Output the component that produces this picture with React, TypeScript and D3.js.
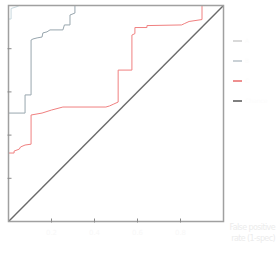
import React from "react";
import * as d3 from "d3";

const seriesNames = ["A", "B", "C", "Chance"];
const seriesColors = ["#c8d8de", "#98a6ae", "#f08080", "#6a6a6a"];
const legendColors = ["#cccccc", "#b8c2c8", "#e86a6a", "#555555"];

const fprA = [0, 0, 0.012, 0.012, 0.04, 0.05, 1];
const tprA = [0, 0.9375, 0.9375, 0.986, 0.995, 1, 1];

const fprB = [0, 0, 0.077, 0.077, 0.105, 0.105, 0.114, 0.133, 0.156, 0.16, 0.179, 0.193, 0.253, 0.26, 0.286, 0.286, 0.309, 0.309, 1];
const tprB = [0, 0.502, 0.502, 0.586, 0.586, 0.84, 0.845, 0.85, 0.854, 0.873, 0.878, 0.887, 0.887, 0.91, 0.91, 0.956, 0.965, 1, 1];

const fprC = [0, 0, 0.026, 0.026, 0.05, 0.056, 0.077, 0.105, 0.105, 0.156, 0.2, 0.253, 0.453, 0.47, 0.49, 0.51, 0.51, 0.574, 0.574, 0.588, 0.588, 0.644, 0.644, 0.805, 0.82, 0.84, 0.9, 0.9, 1];
const tprC = [0, 0.317, 0.317, 0.326, 0.335, 0.345, 0.354, 0.358, 0.493, 0.502, 0.516, 0.53, 0.53, 0.535, 0.544, 0.553, 0.701, 0.701, 0.863, 0.87, 0.898, 0.898, 0.907, 0.91, 0.917, 0.926, 0.935, 1, 1];

const fprD = [0, 1];
const tprD = [0, 1];

const tickValues = [0, 0.2, 0.4, 0.6, 0.8, 1];
const xTitle = ["False positive", "rate (1-spec)"];

export default function App() {
  const x = d3.scaleLinear().domain([0, 1]).range([8.5, 223.5]);
  const y = d3.scaleLinear().domain([0, 1]).range([221.5, 5.5]);
  const line = d3
    .line<[number, number]>()
    .x((d) => x(d[0]))
    .y((d) => y(d[1]));
  const series = [
    [fprA, tprA],
    [fprB, tprB],
    [fprC, tprC],
    [fprD, tprD],
  ];
  const order = [3, 2, 1, 0];
  return (
    <svg
      width={276}
      height={253}
      style={{ position: "fixed", left: 0, top: 0, background: "#fff" }}
      fontFamily="DejaVu Sans"
    >
      {order.map((i) => {
        const pts = series[i][0].map((v, k) => [v, series[i][1][k]] as [number, number]);
        return (
          <path
            key={i}
            d={line(pts) || ""}
            fill="none"
            stroke={seriesColors[i]}
            strokeWidth={i === 3 ? 1.4 : 1}
          />
        );
      })}
      <rect x={x(0)} y={y(1)} width={x(1) - x(0)} height={y(0) - y(1)} fill="none" stroke="#a0a0a0" strokeWidth={1.5} />
      {tickValues.slice(1, -1).map((t) => (
        <g key={"t" + t}>
          <line x1={x(t)} x2={x(t)} y1={y(0) - 3} y2={y(0) + 1} stroke="#8a8a8a" strokeWidth={1} />
          <line x1={x(0) - 1} x2={x(0) + 3} y1={y(t)} y2={y(t)} stroke="#8a8a8a" strokeWidth={1} />
          <text x={x(t)} y={y(0) + 13} fontSize={7} textAnchor="middle" fill="#f8f8f8">
            {t.toFixed(1)}
          </text>
        </g>
      ))}
      {seriesNames.map((n, i) => (
        <g key={n}>
          <line x1={233} x2={242} y1={41 + i * 20} y2={41 + i * 20} stroke={legendColors[i]} strokeWidth={1.5} />
          <text x={245} y={43 + i * 20} fontSize={6} fill="#fcfcfc">
            {n}
          </text>
        </g>
      ))}
      {xTitle.map((s, i) => (
        <text key={s} x={275} y={230 + i * 11} fontSize={8} textAnchor="end" fill="#ececec" letterSpacing={-0.6}>
          {s}
        </text>
      ))}
    </svg>
  );
}
